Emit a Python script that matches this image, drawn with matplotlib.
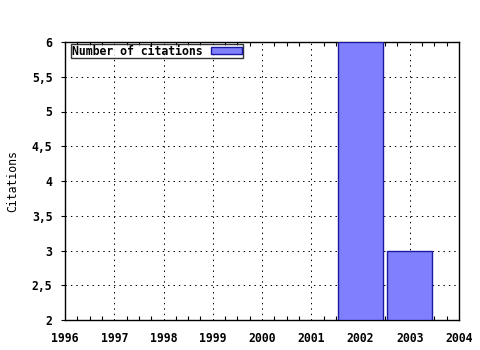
import matplotlib
matplotlib.use("Agg")
import matplotlib.pyplot as plt
from matplotlib.ticker import MultipleLocator, FuncFormatter

years = [2002, 2003]
citations = [6, 3]
xticks = [1996, 1997, 1998, 1999, 2000, 2001, 2002, 2003, 2004]

plt.rcParams["font.family"] = "DejaVu Sans Mono"
plt.rcParams["font.weight"] = "bold"
plt.rcParams["font.size"] = 8.3

fig = plt.figure(figsize=(4.8, 3.5), dpi=100)
ax = fig.add_axes([65 / 480, 1 - 320 / 350, 394 / 480, 278 / 350])

ax.bar(years, [c - 2 for c in citations], bottom=2, width=0.91,
       color="#8080ff", edgecolor="#1a1aa0", linewidth=1,
       label="Number of citations", zorder=3)

ax.set_xlim(1996, 2004)
ax.set_ylim(2, 6)
ax.set_xticks(xticks)
ax.xaxis.set_minor_locator(MultipleLocator(0.25))
ax.yaxis.set_major_locator(MultipleLocator(0.5))
ax.yaxis.set_major_formatter(FuncFormatter(
    lambda v, p: f"{v:g}".replace(".", ",")))
ax.grid(True, which="major", linestyle=(0, (1.4, 4)), color="black",
        linewidth=0.72, zorder=0)
ax.tick_params(axis="x", which="both", direction="in", top=True,
               length=3, width=0.8, pad=9)
ax.tick_params(axis="x", which="major", length=0)
ax.tick_params(axis="y", direction="out", length=3, width=0.8, pad=6)
for s in ax.spines.values():
    s.set_linewidth(1)
ax.set_ylabel("Citations", labelpad=9)

leg = ax.legend(loc="upper left", bbox_to_anchor=(6 / 394, 1 - 2 / 278),
                markerfirst=False, frameon=True, fancybox=False,
                borderaxespad=0, borderpad=0.05, handlelength=2.7,
                handleheight=0.55, handletextpad=0.75)
leg.get_frame().set_edgecolor("black")
leg.get_frame().set_linewidth(1)

fig.savefig("out.png", dpi=100)
